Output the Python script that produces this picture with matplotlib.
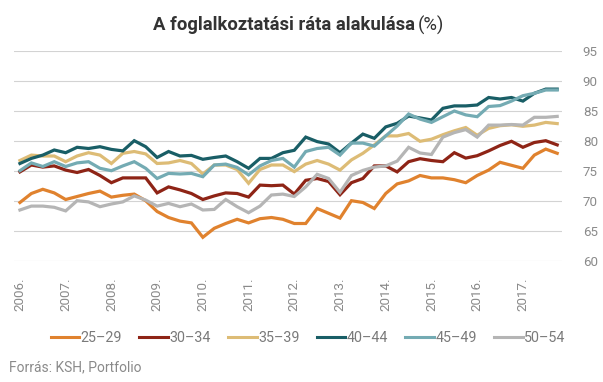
# -*- coding: utf-8 -*-
"""Employment rate by age group, quarterly 2006-2017."""

import matplotlib

matplotlib.use("Agg")
import matplotlib.pyplot as plt
import numpy as np


YEARS = [f"{y}." for y in range(2006, 2018)]
QUARTERS_PER_YEAR = 4

GROUPS = ["25–29", "30–34", "35–39", "40–44", "45–49", "50–54"]

age_25_29 = [69.7, 71.2, 71.9, 71.3, 70.2, 70.7, 71.2, 71.6, 70.6, 70.9, 71.1, 70.0,
             68.2, 67.2, 66.6, 66.3, 63.9, 65.4, 66.2, 66.9, 66.3, 67.0, 67.2, 66.9,
             66.2, 66.2, 68.7, 67.9, 67.1, 70.0, 69.7, 68.7, 71.2, 72.8, 73.3, 74.2,
             73.8, 73.8, 73.5, 73.0, 74.2, 75.1, 76.4, 75.9, 75.4, 77.6, 78.6, 77.9]
age_30_34 = [74.8, 75.95, 75.6, 75.8, 75.1, 74.7, 75.2, 74.2, 73.0, 73.8, 73.8, 73.8,
             71.3, 72.3, 71.8, 71.2, 70.2, 70.8, 71.3, 71.2, 70.6, 72.6, 72.5, 72.6,
             71.1, 73.4, 73.7, 73.2, 71.0, 73.0, 73.7, 75.8, 75.8, 74.8, 76.5, 77.0,
             76.7, 76.5, 78.0, 77.1, 77.5, 78.3, 79.2, 79.9, 78.9, 79.7, 80.0, 79.3]
age_35_39 = [76.7, 77.6, 77.45, 77.45, 76.5, 77.45, 78.0, 77.6, 76.2, 77.9, 78.2, 77.8,
             76.2, 76.3, 76.7, 76.2, 74.45, 75.95, 75.95, 75.2, 72.9, 75.2, 75.95, 75.95,
             74.85, 76.1, 76.7, 76.1, 75.1, 76.8, 77.9, 79.3, 80.8, 80.8, 81.2, 79.9,
             80.25, 81.0, 81.65, 82.2, 80.9, 82.05, 82.5, 82.65, 82.4, 82.6, 83.05, 82.85]
age_40_44 = [76.2, 77.05, 77.6, 78.45, 78.0, 78.9, 78.7, 79.0, 78.55, 78.3, 80.0, 79.0,
             77.2, 78.2, 77.45, 77.55, 76.9, 77.2, 77.45, 76.5, 75.4, 77.05, 77.05, 78.0,
             78.4, 80.6, 79.85, 79.45, 78.0, 79.6, 81.1, 80.4, 82.3, 82.9, 84.1, 83.8,
             83.45, 85.4, 85.8, 85.8, 85.95, 87.2, 86.95, 87.2, 86.6, 87.9, 88.6, 88.6]
age_45_49 = [75.0, 76.3, 75.7, 76.5, 75.7, 76.3, 76.5, 75.4, 75.0, 75.8, 76.5, 75.4,
             73.7, 74.55, 74.45, 74.55, 74.0, 75.95, 76.1, 75.55, 74.3, 75.8, 76.7, 77.05,
             75.6, 78.2, 78.7, 78.9, 77.6, 79.6, 79.6, 79.1, 80.8, 82.45, 84.45, 83.6,
             83.05, 84.0, 84.95, 84.3, 84.0, 85.7, 85.85, 86.6, 87.5, 87.9, 88.45, 88.45]
age_50_54 = [68.45, 69.1, 69.1, 68.9, 68.3, 70.0, 69.8, 69.0, 69.45, 69.8, 70.8, 70.1,
             69.1, 69.55, 69.0, 69.45, 68.45, 68.55, 70.2, 69.0, 68.0, 69.1, 70.95, 71.1,
             70.7, 72.3, 74.4, 73.7, 71.4, 74.2, 75.05, 75.6, 75.8, 76.6, 78.9, 77.95,
             77.7, 80.6, 81.35, 81.85, 80.6, 82.6, 82.6, 82.7, 82.6, 83.9, 83.9, 84.05]

SERIES = [age_25_29, age_30_34, age_35_39, age_40_44, age_45_49, age_50_54]
COLORS = ["#E0822E", "#8E2416", "#DDBC76", "#195E66", "#74ABB3", "#B5B5B5"]

FONT = "Roboto"
GRAY = "#8A8A8A"


def main() -> None:
    plt.rcParams.update({"font.family": FONT, "axes.unicode_minus": False})
    fig = plt.figure(figsize=(6.03, 3.82), dpi=100)
    ax = fig.add_axes([14 / 603, 1 - 260.7 / 382, 548 / 603, 210 / 382])

    x = np.arange(len(age_25_29))
    for values, color, label in zip(SERIES, COLORS, GROUPS):
        ax.plot(x, values, color=color, lw=2.3, label=label, solid_joinstyle="miter")

    ax.set_xlim(-0.52, 47.42)
    ax.set_ylim(60, 95)
    ax.set_yticks(np.arange(60, 96, 5))
    ax.yaxis.tick_right()
    ax.grid(axis="y", color="#D3D3D3", lw=0.8)
    ax.set_axisbelow(True)
    for spine in ax.spines.values():
        spine.set_visible(False)
    ax.tick_params(axis="y", length=0, pad=15, labelsize=9.6, labelcolor=GRAY)

    ax.set_xticks(np.arange(len(YEARS)) * QUARTERS_PER_YEAR)
    ax.set_xticklabels(YEARS, rotation=90, va="top", ha="center")
    ax.tick_params(axis="x", length=0, pad=12, labelsize=9.6, labelcolor=GRAY)

    handles, labels = ax.get_legend_handles_labels()
    leg = fig.legend(handles, labels, loc="center", bbox_to_anchor=(308 / 603, 1 - 337.7 / 382),
                     ncol=6, frameon=False, fontsize=10.3, handlelength=2.0, handletextpad=0.1,
                     columnspacing=1.2, borderaxespad=0)
    for text in leg.get_texts():
        text.set_color("#7A7A7A")
    for line in leg.get_lines():
        line.set_linewidth(2.2)

    fig.text(9 / 603, 1 - 367 / 382, "Forrás: KSH, Portfolio", fontsize=10, color=GRAY,
             ha="left", va="center")

    title = fig.text(153 / 603, 1 - 25 / 382, "A foglalkoztatási ráta alakulása", fontsize=13.3,
                     fontweight="bold", color="#333333", ha="left", va="center")
    fig.canvas.draw()
    bbox = title.get_window_extent()
    fig.text((bbox.x1 + 3) / 603, 1 - 25 / 382, "(%)", fontsize=13.3, color="#333333",
             ha="left", va="center")

    fig.savefig("out.png", dpi=100)


if __name__ == "__main__":
    main()
